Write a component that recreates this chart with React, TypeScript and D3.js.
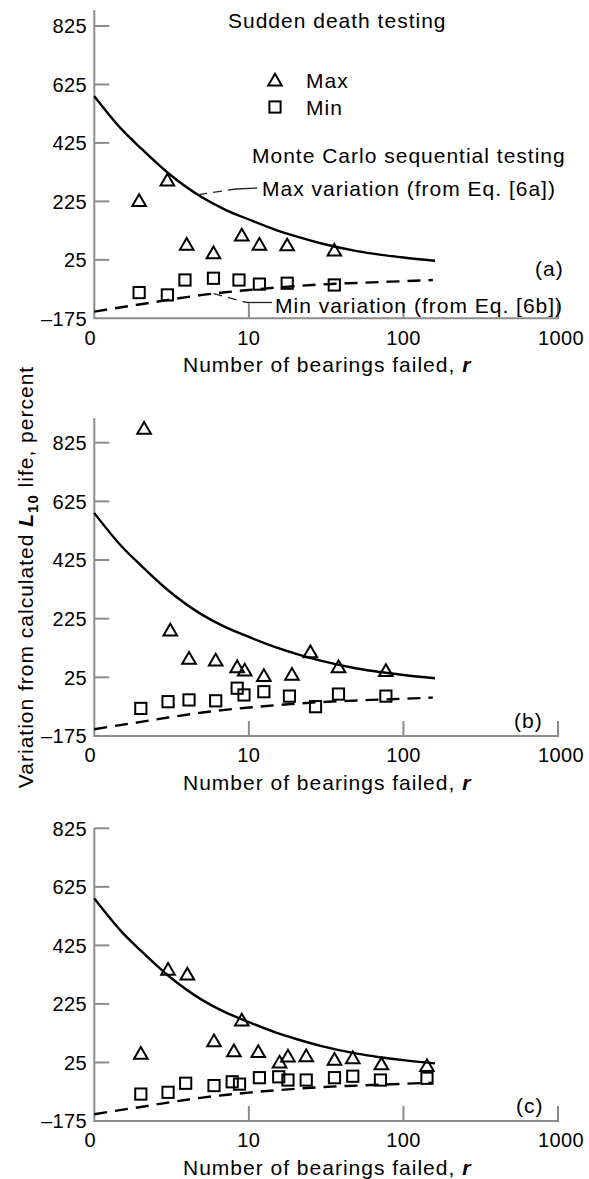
import React from 'react';
import * as d3 from 'd3';

// theoretical curves
const curveR = [1, 1.5, 2, 3, 5, 7, 10, 15, 20, 30, 50, 70, 100, 160];
const maxCurve = [585, 472, 407, 322, 238, 197, 163, 127, 106, 80, 55, 43, 33, 22];
const minCurveR = [1, 1.5, 2, 3, 5, 7, 10, 15, 20, 30, 50, 70, 100, 155];
const minCurve = [-152, -137, -127, -112, -95, -86, -78, -70, -65, -59, -54, -51, -48, -44];

const xTicks = [1, 10, 100, 1000];
const xTickLabels = ['0', '10', '100', '1000'];
const yTicks = [825, 625, 425, 225, 25, -175];
const yTickLabels = ['825', '625', '425', '225', '25', '\u2013175'];

// (a) sudden death testing
const aMaxR = [1.95, 2.97, 3.96, 5.9, 9.0, 11.7, 17.7, 35.7];
const aMaxV = [228, 298, 78, 49, 110, 78, 76, 58];
const aMinR = [1.95, 2.97, 3.86, 5.9, 8.63, 11.7, 17.7, 35.7];
const aMinV = [-87, -95, -44, -38, -44, -58, -55, -61];

// (b)
const bMaxR = [2.1, 3.1, 4.1, 6.1, 8.4, 9.4, 12.5, 19, 25, 38, 77];
const bMaxV = [874, 186, 90, 84, 61, 50, 31, 35, 112, 61, 48];
const bMinR = [2.0, 3.0, 4.1, 6.1, 8.4, 9.3, 12.5, 18.3, 27, 38, 77];
const bMinV = [-81, -58, -52, -55, -12, -35, -24, -39, -75, -32, -39];

// (c)
const cMaxR = [2.0, 3.0, 4.0, 5.95, 8.0, 9.0, 11.5, 15.8, 17.9, 23.5, 35.8, 47, 72, 142];
const cMaxV = [56, 343, 327, 99, 65, 170, 62, 26, 47, 48, 36, 41, 20, 14];
const cMinR = [2.0, 3.0, 3.9, 5.95, 7.8, 8.7, 11.7, 15.6, 17.9, 23.5, 35.8, 47, 71, 142];
const cMinV = [-83, -77, -46, -54, -41, -49, -27, -24, -35, -35, -27, -22, -35, -29];

const W = 589;
const H = 1179;
const xLeft = 94.3;
const xRight = 558;
const font = '"Liberation Sans", Arial, Helvetica, sans-serif';
const axisColor = '#8c8c8c';

const panels = [
  { key: 'a', yTop: 26, yBot: 318.3, axisTop: 10, tag: '(a)', tagX: 535, tagY: 268, maxR: aMaxR, maxV: aMaxV, minR: aMinR, minV: aMinV },
  { key: 'b', yTop: 442.7, yBot: 736, axisTop: 418, tag: '(b)', tagX: 514, tagY: 720, maxR: bMaxR, maxV: bMaxV, minR: bMinR, minV: bMinV },
  { key: 'c', yTop: 828.3, yBot: 1121, axisTop: 828, tag: '(c)', tagX: 516, tagY: 1105, maxR: cMaxR, maxV: cMaxV, minR: cMinR, minV: cMinV },
];

const triPath = 'M0,-6.3L6.8,5.4L-6.8,5.4Z';

const Tri = ({ x, y }: { x: number; y: number }) => (
  <path d={triPath} transform={`translate(${x},${y})`} fill="none" stroke="#000" strokeWidth={2} strokeLinejoin="miter" />
);
const Sq = ({ x, y }: { x: number; y: number }) => (
  <rect x={x - 5.6} y={y - 5.6} width={11.2} height={11.2} fill="none" stroke="#000" strokeWidth={2} />
);

const textStyle = { fontFamily: font, fontSize: 21, letterSpacing: 1 } as React.CSSProperties;

function Panel({ p }: { p: typeof panels[number] }) {
  const x = d3.scaleLog().domain([1, 1000]).range([xLeft, xRight]);
  const y = d3.scaleLinear().domain([-175, 825]).range([p.yBot, p.yTop]);
  const line = d3.line<[number, number]>().x(d => x(d[0])).y(d => y(d[1])).curve(d3.curveMonotoneX);
  const maxPts = curveR.map((r, i) => [r, maxCurve[i]] as [number, number]);
  const minPts = minCurveR.map((r, i) => [r, minCurve[i]] as [number, number]);

  return (
    <g>
      {/* axes */}
      <line x1={xLeft} x2={xLeft} y1={p.axisTop} y2={p.yBot} stroke={axisColor} strokeWidth={2} />
      <line x1={xLeft - 1} x2={xRight + 1} y1={p.yBot} y2={p.yBot} stroke={axisColor} strokeWidth={2} />
      {yTicks.map((t, i) => (
        <g key={'y' + t}>
          {t !== -175 && <line x1={xLeft} x2={xLeft + 15} y1={y(t)} y2={y(t)} stroke={axisColor} strokeWidth={2} />}
          <text x={87} y={y(t)} dy="0.36em" textAnchor="end" style={{ fontFamily: font, fontSize: 20, letterSpacing: 0.4 }}>{yTickLabels[i]}</text>
        </g>
      ))}
      {xTicks.map((t, i) => (
        <g key={'x' + t}>
          {t !== 1 && <line x1={x(t)} x2={x(t)} y1={p.yBot} y2={p.yBot - 15} stroke={axisColor} strokeWidth={2} />}
          <text x={x(t) - (t === 1 ? 4 : 0) + (t === 1000 ? 3 : 0)} y={p.yBot + 19} dy="0.36em" textAnchor="middle" style={{ fontFamily: font, fontSize: 20, letterSpacing: 0.4 }}>{xTickLabels[i]}</text>
        </g>
      ))}
      <text x={(xLeft + xRight) / 2 + 1} y={p.yBot + 46.5} dy="0.36em" textAnchor="middle" style={textStyle}>
        Number of bearings failed, <tspan fontWeight="bold" fontStyle="italic">r</tspan>
      </text>
      <text x={p.tagX} y={p.tagY} dy="0.36em" style={textStyle}>{p.tag}</text>

      {/* theory curves */}
      <path d={line(maxPts) || ''} fill="none" stroke="#000" strokeWidth={2.4} />
      <path d={line(minPts) || ''} fill="none" stroke="#000" strokeWidth={2.4} strokeDasharray="13,8" />

      {/* data */}
      {p.maxR.map((r, i) => <Tri key={'t' + i} x={x(r)} y={y(p.maxV[i])} />)}
      {p.minR.map((r, i) => <Sq key={'s' + i} x={x(r)} y={y(p.minV[i])} />)}
    </g>
  );
}

export default function App() {
  const pa = panels[0];
  const xa = d3.scaleLog().domain([1, 1000]).range([xLeft, xRight]);
  const ya = d3.scaleLinear().domain([-175, 825]).range([pa.yBot, pa.yTop]);
  const maxAt = d3.scaleLog().domain(curveR).range(maxCurve);
  const minAt = d3.scaleLog().domain(minCurveR).range(minCurve);
  const maxLeadR = 4.7;
  const minLeadR = 5.9;
  const mx = xa(maxLeadR), my = ya(maxAt(maxLeadR));
  const nx = xa(minLeadR), ny = ya(minAt(minLeadR));

  return (
    <svg width={W} height={H} style={{ position: 'absolute', left: 0, top: 0, background: '#fff' }}>
      <rect width={W} height={H} fill="#fff" />
      {panels.map(p => <Panel key={p.key} p={p} />)}

      {/* panel (a) annotations */}
      <text x={228} y={20} dy="0.36em" style={textStyle}>Sudden death testing</text>
      <Tri x={275} y={80} />
      <text x={306} y={80} dy="0.36em" style={textStyle}>Max</text>
      <Sq x={275} y={107} />
      <text x={306} y={107} dy="0.36em" style={textStyle}>Min</text>
      <text x={252} y={155} dy="0.36em" style={textStyle}>Monte Carlo sequential testing</text>
      <text x={262} y={188.5} dy="0.36em" style={textStyle}>Max variation (from Eq. [6a])</text>
      <text x={275} y={305} dy="0.36em" style={textStyle}>Min variation (from Eq. [6b])</text>
      <path d={`M${mx},${my}L236,189`} fill="none" stroke="#222" strokeWidth={1.3} strokeDasharray="9,6" />
      <path d={`M236,189L257,188`} fill="none" stroke="#222" strokeWidth={1.3} />
      <path d={`M${nx},${ny}L247,302.5`} fill="none" stroke="#222" strokeWidth={1.3} strokeDasharray="9,6" />
      <path d={`M247,302.5L272,302.5`} fill="none" stroke="#222" strokeWidth={1.3} />

      {/* shared y axis title */}
      <text transform="translate(25,577) rotate(-90)" dy="0.36em" textAnchor="middle" style={textStyle}>
        Variation from calculated <tspan fontWeight="bold" fontStyle="italic">L</tspan><tspan fontWeight="bold" fontSize={15} dy="5">10</tspan><tspan dy="-5"> life, percent</tspan>
      </text>
    </svg>
  );
}
